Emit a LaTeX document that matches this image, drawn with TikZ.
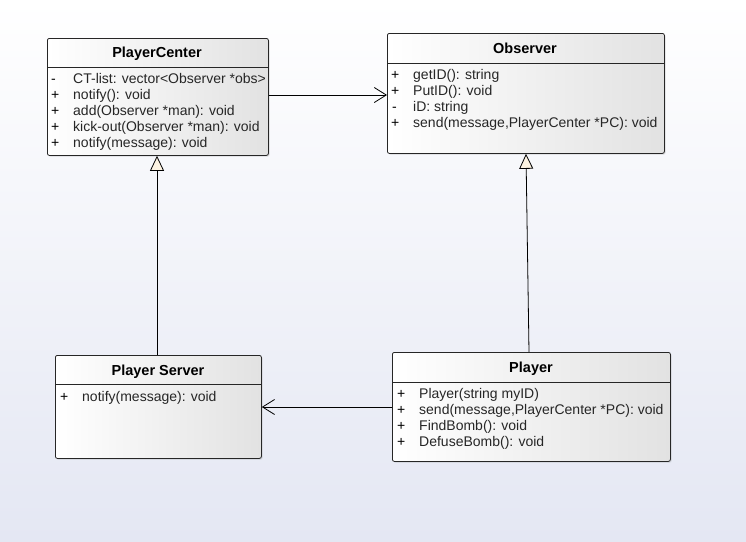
\documentclass[tikz,border=0pt]{standalone}
\usepackage{fontspec}
\setmainfont{Liberation Sans}
\usetikzlibrary{arrows.meta,shadows}
\definecolor{bgbot}{RGB}{228,231,243}
\definecolor{boxgray}{RGB}{226,226,226}
\definecolor{cream}{RGB}{253,243,226}
\tikzset{
  umlbox/.style={draw=black!85, line width=0.8pt, rounded corners=2pt, inner sep=0pt,
    left color=white, right color=boxgray, anchor=north west,
    drop shadow={shadow xshift=1.2pt, shadow yshift=-1.2pt, opacity=0.25}},
  umltitle/.style={font=\fontsize{14.5}{16}\selectfont\bfseries, inner sep=0pt,
    text height=11.5pt, text depth=2pt},
  vismark/.style={font=\fontsize{14}{16}\selectfont, inner sep=0pt, anchor=west,
    text height=11.5pt, text depth=2pt},
  member/.style={font=\fontsize{14}{16}\selectfont, inner sep=0pt, anchor=west, text=black!85,
    text height=11.5pt, text depth=2pt},
  sepline/.style={line width=0.8pt, draw=black!85},
  assoc/.style={line width=0.8pt, -{Straight Barb[length=12pt,width=15pt,line width=0.8pt]}},
  gener/.style={line width=0.8pt, -{Triangle[length=15pt,width=14pt,fill=cream,line width=0.8pt]}}
}
\begin{document}
\begin{tikzpicture}[x=1pt,y=-1pt]
\shade[top color=white, bottom color=bgbot] (0,0) rectangle (746,541);
\useasboundingbox (0,0) rectangle (746,541);

% PlayerCenter
\node[umlbox, minimum width=221pt, minimum height=117pt] (pc) at (47,38) {};
\node[umltitle] (pct) at (157,53) {PlayerCenter};
\draw[sepline] (47,67) -- (268,67);
\node[vismark] (pcm1) at (51,79) {-};
\node[member] (pcr1) at (73,79) {CT-list: vector<Observer *obs>};
\node[vismark] (pcm2) at (51,95) {+};
\node[member] (pcr2) at (73,95) {notify(): void};
\node[vismark] (pcm3) at (51,111) {+};
\node[member] (pcr3) at (73,111) {add(Observer *man): void};
\node[vismark] (pcm4) at (51,127) {+};
\node[member] (pcr4) at (73,127) {kick-out(Observer *man): void};
\node[vismark] (pcm5) at (51,143) {+};
\node[member] (pcr5) at (73,143) {notify(message): void};

% Observer
\node[umlbox, minimum width=277pt, minimum height=120pt] (obs) at (387,33) {};
\node[umltitle] (obst) at (525,49) {Observer};
\draw[sepline] (387,63) -- (664,63);
\node[vismark] (om1) at (391,75) {+};
\node[member] (or1) at (413,75) {getID(): string};
\node[vismark] (om2) at (391,91) {+};
\node[member] (or2) at (413,91) {PutID(): void};
\node[vismark] (om3) at (392,107) {-};
\node[member] (or3) at (413,107) {iD: string};
\node[vismark] (om4) at (391,123) {+};
\node[member] (or4) at (413,123) {send(message,PlayerCenter *PC): void};

% Player Server
\node[umlbox, minimum width=206pt, minimum height=103pt] (ps) at (55,355) {};
\node[umltitle] (pst) at (158,371) {Player Server};
\draw[sepline] (55,384) -- (261,384);
\node[vismark] (psm1) at (60,397) {+};
\node[member] (psr1) at (82,397) {notify(message): void};

% Player
\node[umlbox, minimum width=278pt, minimum height=109pt] (pl) at (392,352) {};
\node[umltitle] (plt) at (531,368) {Player};
\draw[sepline] (392,382) -- (670,382);
\node[vismark] (plm1) at (397,394) {+};
\node[member] (plr1) at (419,394) {Player(string myID)};
\node[vismark] (plm2) at (397,410) {+};
\node[member] (plr2) at (419,410) {send(message,PlayerCenter *PC): void};
\node[vismark] (plm3) at (397,426) {+};
\node[member] (plr3) at (419,426) {FindBomb(): void};
\node[vismark] (plm4) at (397,442) {+};
\node[member] (plr4) at (419,442) {DefuseBomb(): void};

% connectors
\draw[assoc] (pc.east |- {(0,95)}) -- (obs.west |- {(0,95)});
\draw[gener] (ps.north -| {(157,0)}) -- (pc.south -| {(157,0)});
\draw[gener] (pl.north -| {(529,0)}) -- (obs.south -| {(526,0)});
\draw[assoc] (pl.west |- {(0,407)}) -- (ps.east |- {(0,407)});
\end{tikzpicture}
\end{document}
